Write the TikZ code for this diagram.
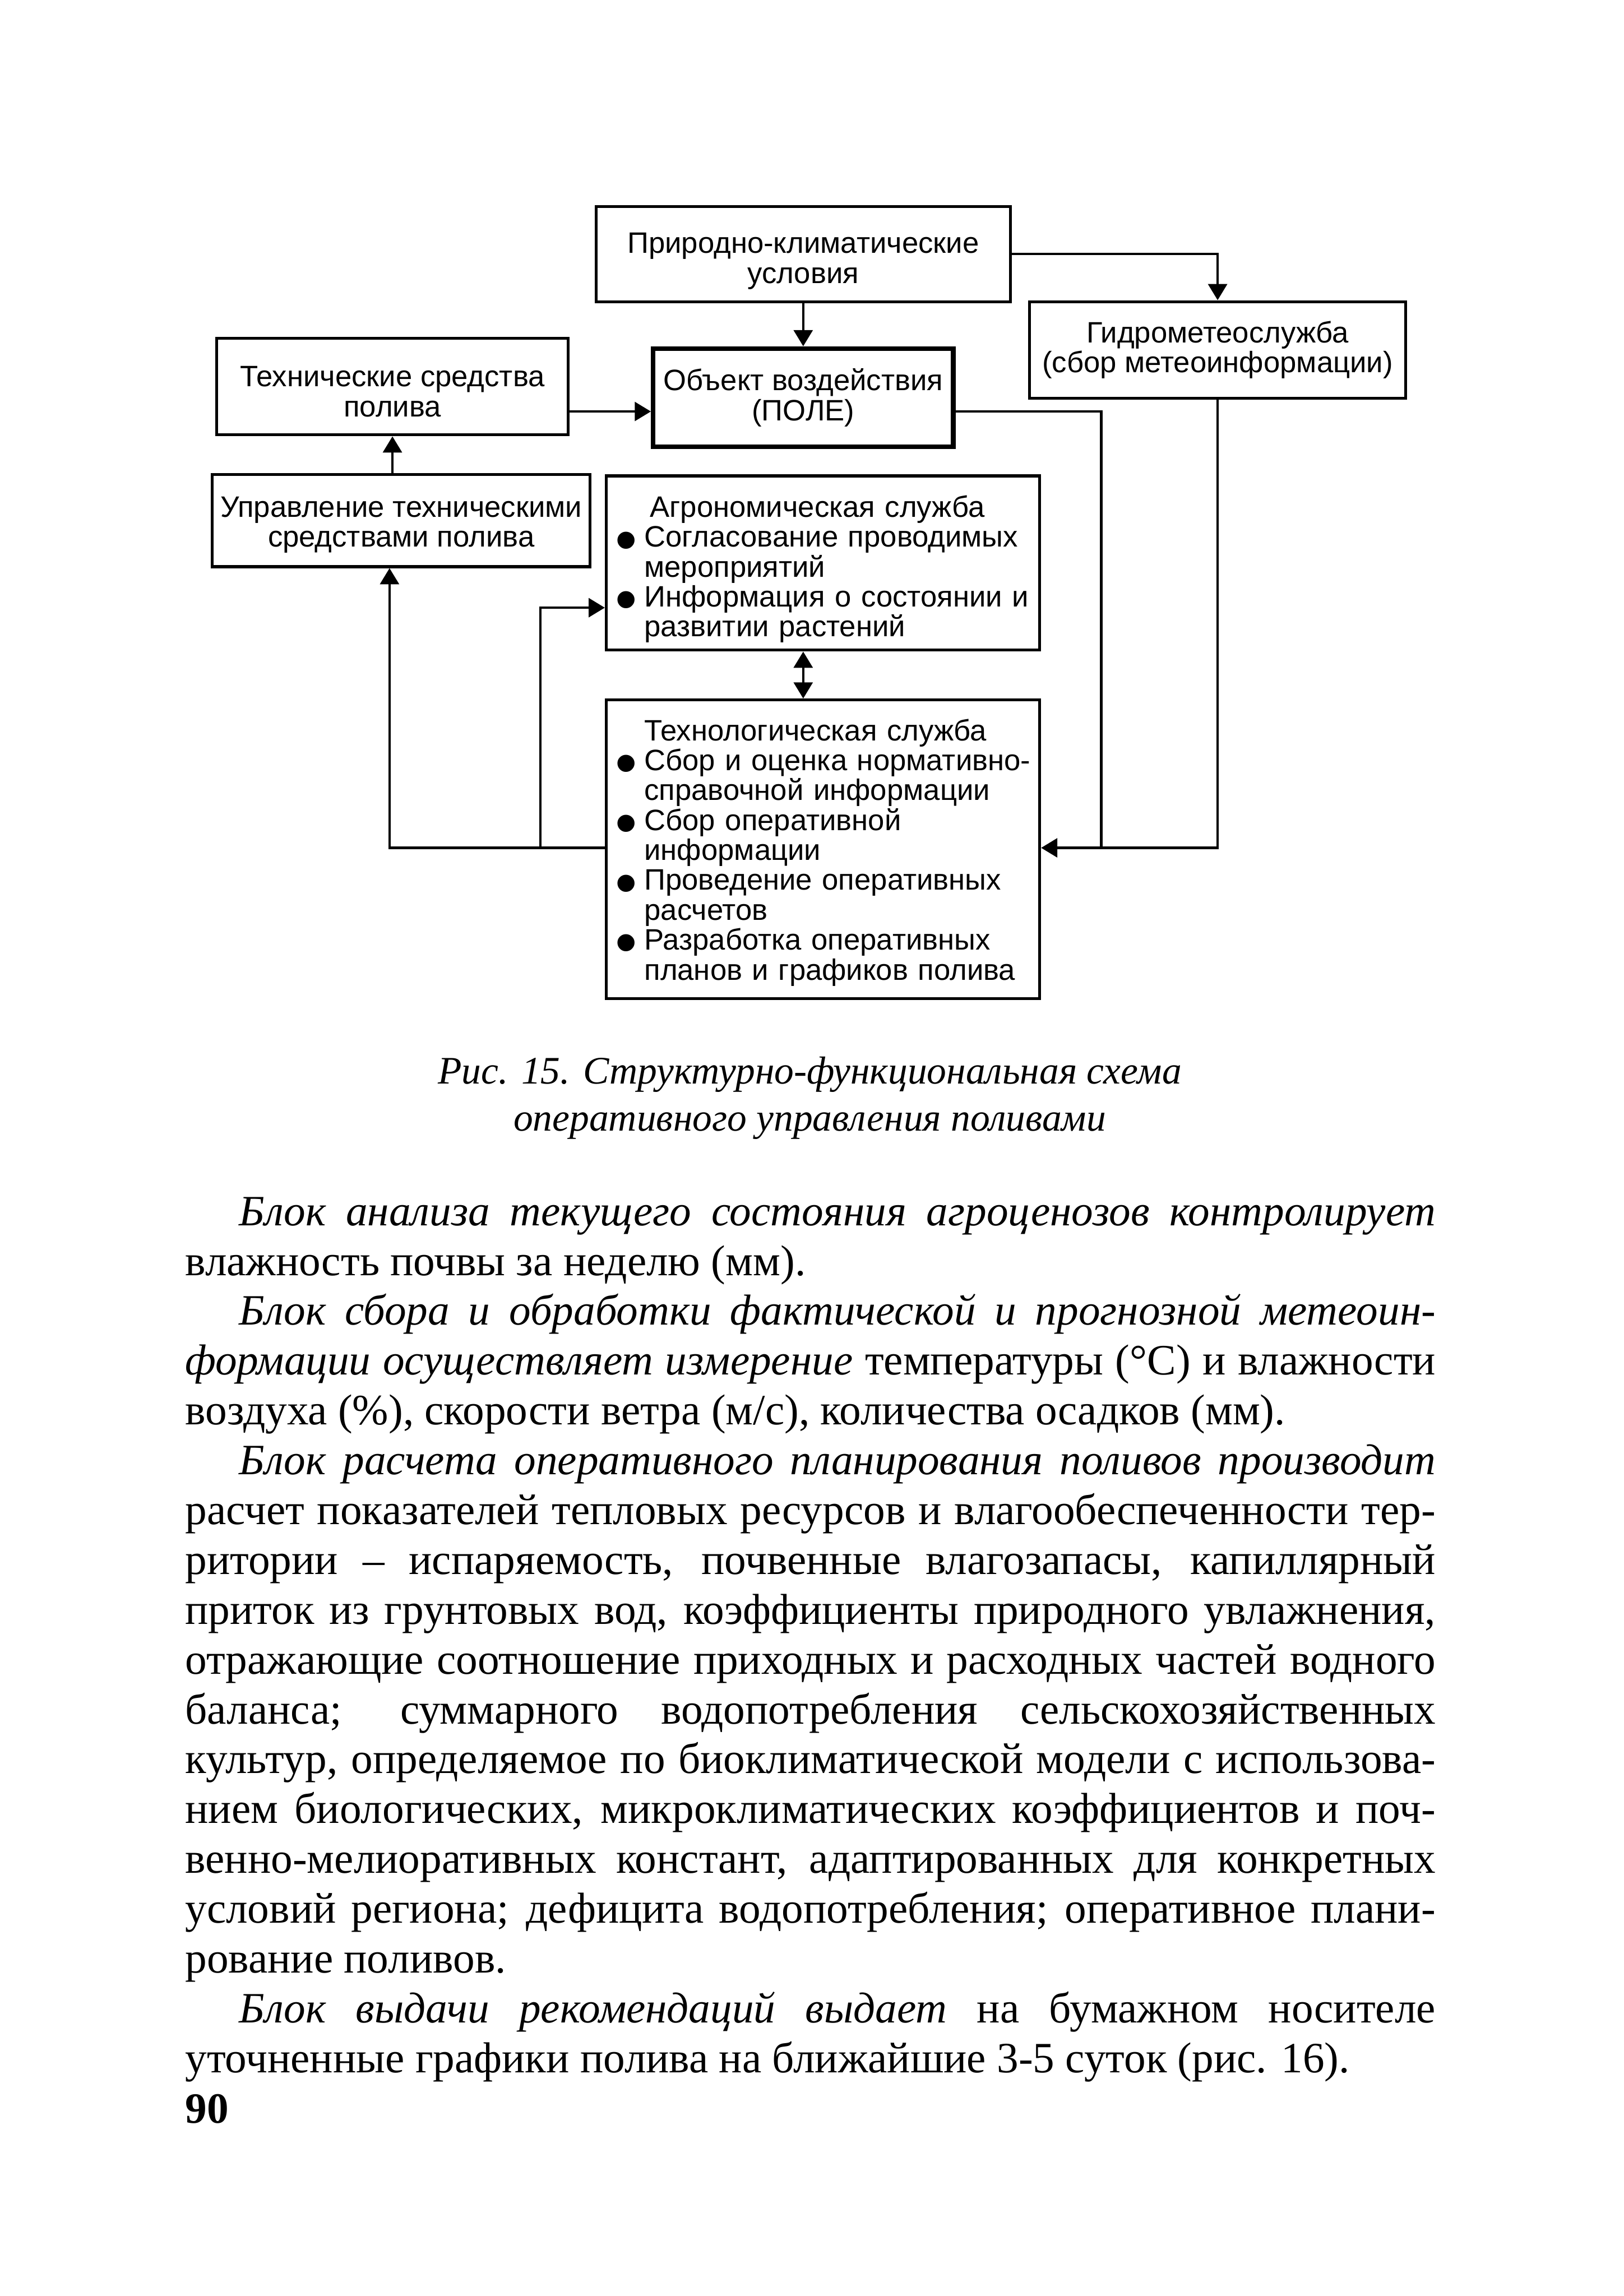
\documentclass[tikz,border=0pt]{standalone}
\usepackage{fontspec}
\setmainfont{Liberation Serif}
\newfontfamily\diagfont{Liberation Sans}
\usetikzlibrary{arrows.meta, positioning, calc}

\newlength{\upx}
\setlength{\upx}{0.013075cm}
\newcommand{\bitem}{\makebox[0.2615cm][l]{\raisebox{-3.6pt}[0pt][0pt]{\fontsize{16}{16}\selectfont\textbullet}}}
\newcommand{\bcont}{\hspace*{0.2615cm}}
\newcommand{\lift}[1]{\rule{0pt}{#1}}

\tikzset{
  box/.style={draw, line width=0.75pt, inner sep=0pt, align=center,
    font=\diagfont\fontsize{7.5}{7.6}\selectfont},
  mainbox/.style={box, line width=1.15pt},
  listbox/.style={box, align=left, inner xsep=0.078cm, text width=3.713cm, minimum width=3.870cm},
  link/.style={line width=0.6pt},
  arr/.style={link, -{Triangle[length=4.1pt, width=4.8pt]}},
  dblarr/.style={link, {Triangle[length=4.1pt, width=4.8pt]}-{Triangle[length=4.1pt, width=4.8pt]}},
}

\begin{document}
\begin{tikzpicture}[x=0.013075cm, y=-0.013075cm]
  \fill[white] (0,0) rectangle (1109,1568);
  \useasboundingbox (0,0) rectangle (1109,1568);

  % блоки схемы
  \node[box, minimum width=3.700cm, minimum height=0.850cm] (prirod) at (548.5,173.5) {\lift{8.8pt}Природно-климатические\\условия};
  \node[box, minimum width=3.360cm, minimum height=0.863cm] (gidro) at (831.5,239) {Гидрометеослужба\\(сбор метеоинформации)};
  \node[box, minimum width=3.138cm, minimum height=0.863cm] (techs) at (268,264) {\lift{7.7pt}Технические средства\\полива};
  \node[mainbox, minimum width=2.680cm, minimum height=0.876cm] (obj) at (548.5,271.5) {Объект воздействия\\(ПОЛЕ)};
  \node[box, minimum width=3.373cm, minimum height=0.824cm] (upr) at (274,355.5) {\lift{7.4pt}Управление техническими\\средствами полива};
  \node[listbox, minimum height=1.556cm] (agro) at (562,384.5) {%
    \lift{8.6pt}\bcont\hspace*{0.05cm}Агрономическая служба\\
    \bitem Согласование проводимых\\
    \bcont мероприятий\\
    \bitem Информация о состоянии и\\
    \bcont развитии растений};
  \node[listbox, minimum height=2.667cm] (tserv) at (562,580) {%
    \lift{7.1pt}\bcont Технологическая служба\\
    \bitem Сбор и оценка нормативно-\\
    \bcont справочной информации\\
    \bitem Сбор оперативной\\
    \bcont информации\\
    \bitem Проведение оперативных\\
    \bcont расчетов\\
    \bitem Разработка оперативных\\
    \bcont планов и графиков полива};

  \coordinate (jR) at (752,579);
  \coordinate (jL) at (369,579);

  \draw[arr] (prirod.east) -| (gidro.north);
  \draw[arr] (prirod.south) -- (obj.north);
  \draw[arr] (techs.east |- 0,281) -- (obj.west |- 0,281);
  \draw[arr] (upr.north -| techs.south) -- (techs.south);
  \draw[dblarr] (agro.south -| obj.south) -- (tserv.north -| obj.south);
  \draw[link] (obj.east |- 0,281) -| (jR);
  \draw[arr] (gidro.south) |- (tserv.east |- jR);
  \draw[arr] (tserv.west |- jL) -| (upr.south -| 266,0);
  \draw[arr] (jL) |- (agro.west |- 0,415);

  \node[align=center, inner sep=0pt, font=\itshape\fontsize{9.9}{12}\selectfont] (cap) at (553,750)
    {Рис. 15. Структурно-функциональная схема\\оперативного управления поливами};

  \node[anchor=north west, inner sep=0pt, text width=11.166cm, align=justify,
    font=\fontsize{11}{12.66}\selectfont] (body) at (126,817) {%
    \hyphenpenalty=10000\exhyphenpenalty=10000\tolerance=10000
    \hspace*{0.48cm}\textit{Блок анализа текущего состояния агроценозов контролирует}\linebreak
    влажность почвы за неделю (мм).\par
    \hspace*{0.48cm}\textit{Блок сбора и обработки фактической и прогнозной метеоин-}\linebreak
    \textit{формации осуществляет измерение} температуры (°C) и влажности\linebreak
    воздуха (\%), скорости ветра (м/с), количества осадков (мм).\par
    \hspace*{0.48cm}\textit{Блок расчета оперативного планирования поливов производит}\linebreak
    расчет показателей тепловых ресурсов и влагообеспеченности тер-\linebreak
    ритории – испаряемость, почвенные влагозапасы, капиллярный\linebreak
    приток из грунтовых вод, коэффициенты природного увлажнения,\linebreak
    отражающие соотношение приходных и расходных частей водного\linebreak
    баланса; суммарного водопотребления сельскохозяйственных\linebreak
    культур, определяемое по биоклиматической модели с использова-\linebreak
    нием биологических, микроклиматических коэффициентов и поч-\linebreak
    венно-мелиоративных констант, адаптированных для конкретных\linebreak
    условий региона; дефицита водопотребления; оперативное плани-\linebreak
    рование поливов.\par
    \hspace*{0.48cm}\textit{Блок выдачи рекомендаций выдает} на бумажном носителе\linebreak
    уточненные графики полива на ближайшие 3-5 суток (рис. 16).\par};

  \node[anchor=base west, inner sep=0pt, font=\bfseries\fontsize{11}{12}\selectfont] (pnum) at (126,1450) {90};
\end{tikzpicture}
\end{document}
